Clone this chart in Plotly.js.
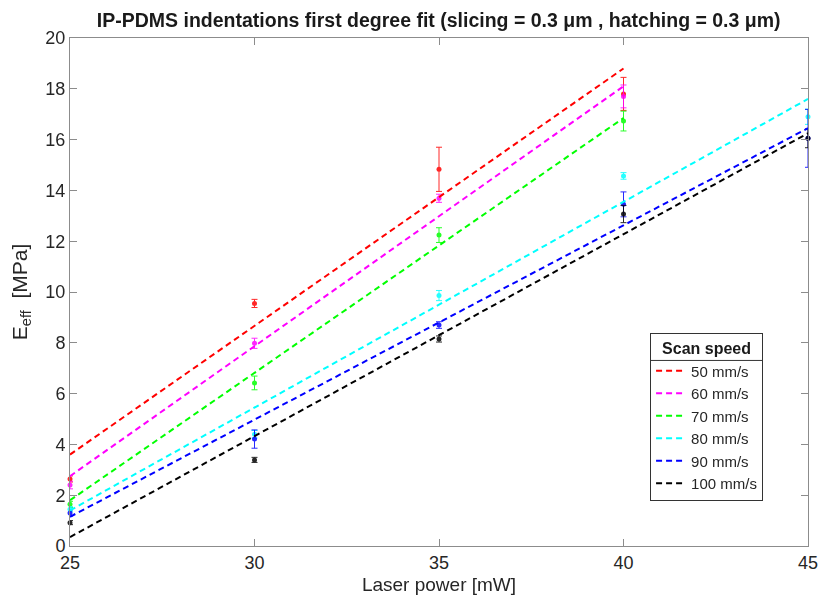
<!DOCTYPE html>
<html>
<head>
<meta charset="utf-8">
<script src="https://cdn.plot.ly/plotly-3.0.1.min.js"></script>
<style>html,body{margin:0;padding:0;background:#fff;}#chart{width:820px;height:601px;}</style>
</head>
<body>
<div id="chart"></div>
<script>
// Data
const laserPower = [25, 30, 35, 40, 45];
const seriesNames = ["50 mm/s", "60 mm/s", "70 mm/s", "80 mm/s", "90 mm/s", "100 mm/s"];
const seriesColors = ["#ff0000", "#ff00ff", "#00ff00", "#00ffff", "#0000ff", "#000000"];

const e50 = [2.64, 9.55, 14.83, 17.8];
const e60 = [2.4, 7.98, 13.69, 17.7];
const e70 = [1.64, 6.42, 12.24, 16.73];
const e80 = [1.45, 4.4, 9.86, 14.57, 16.9];
const e90 = [1.3, 4.21, 8.70, 13.45, 16.05];
const e100 = [0.92, 3.39, 8.15, 13.07, 16.05];

const err50 = [0.12, 0.16, 0.87, 0.65];
const err60 = [0.15, 0.2, 0.16, 0.45];
const err70 = [0.12, 0.27, 0.29, 0.39];
const err80 = [0.1, 0.15, 0.2, 0.13, 0.3];
const err90 = [0.12, 0.36, 0.13, 0.49, 1.14];
const err100 = [0.08, 0.1, 0.12, 0.34, 0.37];

// First degree fit lines: endpoints
const fitX50 = [25, 40], fitY50 = [3.6, 18.8];
const fitX60 = [25, 40], fitY60 = [2.75, 18.1];
const fitX70 = [25, 40], fitY70 = [1.8, 16.85];
const fitX80 = [25, 45], fitY80 = [1.4, 17.6];
const fitX90 = [25, 45], fitY90 = [1.15, 16.45];
const fitX100 = [25, 45], fitY100 = [0.35, 16.25];

const yTicks = [0, 2, 4, 6, 8, 10, 12, 14, 16, 18, 20];
const xTicks = [25, 30, 35, 40, 45];

const values = [e50, e60, e70, e80, e90, e100];
const errs = [err50, err60, err70, err80, err90, err100];
const fitXs = [fitX50, fitX60, fitX70, fitX80, fitX90, fitX100];
const fitYs = [fitY50, fitY60, fitY70, fitY80, fitY90, fitY100];

const traces = [];
values.forEach((v, i) => {
  traces.push({
    x: laserPower.slice(0, v.length), y: v, type: 'scatter', mode: 'markers',
    marker: {color: seriesColors[i], size: 5},
    error_y: {type: 'data', array: errs[i], visible: true, color: seriesColors[i], thickness: 1, width: 3},
    showlegend: false, cliponaxis: false, hoverinfo: 'skip', opacity: 0.85
  });
});
fitXs.forEach((fx, i) => {
  traces.push({
    x: fx, y: fitYs[i], type: 'scatter', mode: 'lines', name: seriesNames[i],
    line: {color: seriesColors[i], width: 2, dash: '6px,4px'}
  });
});

const axisCommon = {
  showgrid: false, zeroline: false, showline: true, linecolor: '#8c8c8c', linewidth: 1,
  mirror: 'ticks', ticks: 'inside', ticklen: 7, tickcolor: '#8c8c8c',
  tickfont: {family: 'Liberation Sans, Arial, sans-serif', size: 18, color: '#262626'}
};

const layout = {
  width: 820, height: 601,
  margin: {l: 70, r: 12, t: 38, b: 55},
  paper_bgcolor: '#ffffff', plot_bgcolor: '#ffffff',
  font: {family: 'Liberation Sans, Arial, sans-serif', color: '#262626'},
  title: {
    text: '<b>IP-PDMS indentations first degree fit (slicing = 0.3 μm , hatching = 0.3 μm)</b>',
    font: {size: 19.5, color: '#1a1a1a'}, x: 0.535, xanchor: 'center', y: 0.966, yanchor: 'middle'
  },
  xaxis: Object.assign({}, axisCommon, {
    range: [25, 45], tickvals: xTicks, ticktext: xTicks.map(String),
    title: {text: 'Laser power [mW]', font: {size: 19, color: '#262626'}, standoff: 6}
  }),
  yaxis: Object.assign({}, axisCommon, {
    range: [0, 20], tickvals: yTicks, ticktext: yTicks.map(String),
    title: {text: 'E<sub>eff</sub>  [MPa]', font: {size: 21, color: '#262626'}, standoff: 12}
  }),
  legend: {
    x: 0.786, y: 0.42, xanchor: 'left', yanchor: 'top',
    bgcolor: 'rgba(255,255,255,0)', bordercolor: '#333333', borderwidth: 1,
    font: {size: 15, color: '#262626'}, itemwidth: 30, tracegroupgap: 0,
    title: {text: '<b>Scan speed</b>', font: {size: 16, color: '#1a1a1a'}, side: 'top center'}
  },
  showlegend: true
};

Plotly.newPlot('chart', traces, layout, {displayModeBar: false, staticPlot: true}).then(gd => {
  // separator under the legend title, placed from the rendered legend box
  const bg = gd.querySelector('.legend .bg');
  const title = gd.querySelector('.legend .legendtitletext');
  if (!bg || !title) return;
  const bb = bg.getBoundingClientRect();
  const tb = title.getBoundingClientRect();
  const gb = gd.getBoundingClientRect();
  const fs = gd._fullLayout._size;
  const yPix = (tb.bottom - gb.top) + 3;
  const toPx = px => (px - gb.left - fs.l) / fs.w;
  const toPy = py => 1 - (py - fs.t) / fs.h;
  Plotly.relayout(gd, {shapes: [{
    type: 'line', xref: 'paper', yref: 'paper', layer: 'above',
    x0: toPx(bb.left), x1: toPx(bb.right), y0: toPy(yPix), y1: toPy(yPix),
    line: {color: '#333333', width: 1}
  }]});
});
</script>
</body>
</html>
